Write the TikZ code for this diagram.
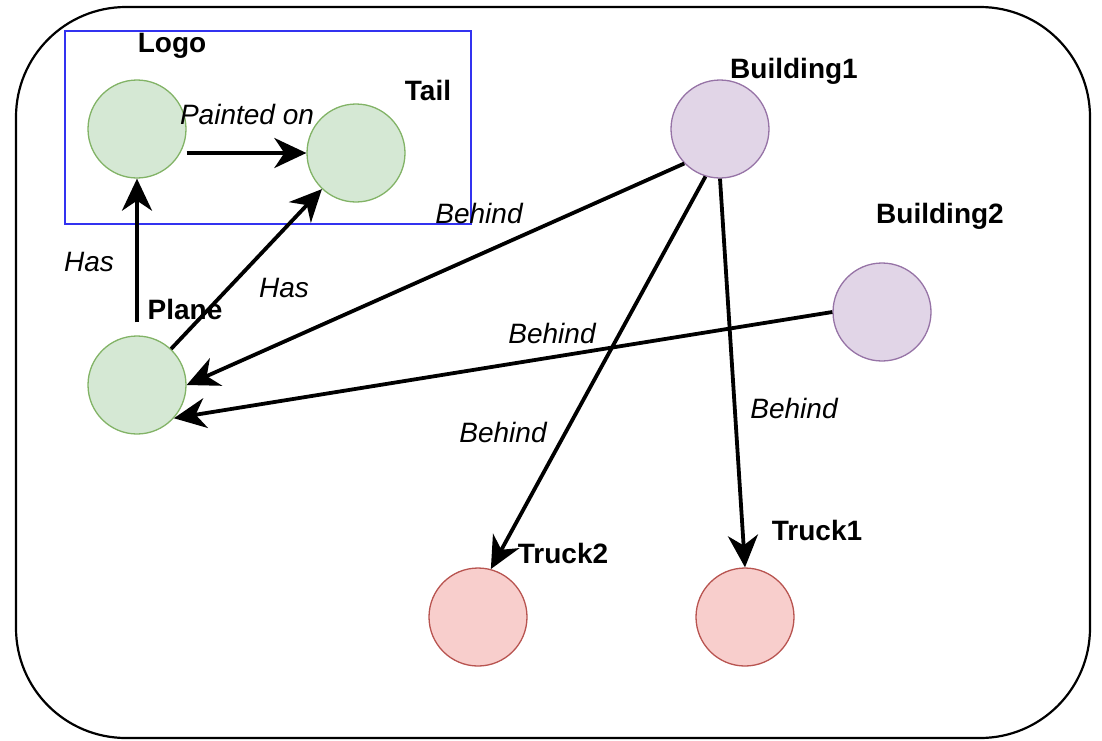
\documentclass[tikz,border=0pt]{standalone}
\usepackage{fontspec}
\setmainfont{Liberation Sans}
\usetikzlibrary{arrows.meta}
\definecolor{gfill}{HTML}{D5E8D4}\definecolor{gline}{HTML}{82B366}
\definecolor{pfill}{HTML}{E1D5E7}\definecolor{pline}{HTML}{9673A6}
\definecolor{rfill}{HTML}{F8CECC}\definecolor{rline}{HTML}{B85450}
\definecolor{boxblue}{RGB}{50,50,240}
\tikzset{
  ent/.style={circle, minimum size=98pt, inner sep=0pt, line width=1.3pt},
  gnode/.style={ent, fill=gfill, draw=gline},
  pnode/.style={ent, fill=pfill, draw=pline},
  rnode/.style={ent, fill=rfill, draw=rline},
  arr/.style={line width=3.8pt, -{Stealth[length=32pt,width=30pt,inset=10pt]}},
  lbl/.style={font=\fontsize{28}{34}\selectfont\bfseries, text height=20pt, text depth=0pt, inner sep=0pt},
  elab/.style={font=\fontsize{28}{34}\selectfont\itshape, text height=20pt, text depth=0pt, inner sep=0pt},
}
\begin{document}
\begin{tikzpicture}[x=1pt,y=-1pt]
\useasboundingbox (0,0) rectangle (1102,740);
\draw[line width=2.2pt, rounded corners=110pt] (16,7) rectangle (1090,738);
\draw[boxblue, line width=1.6pt] (65,31) rectangle (471,224);
\node[gnode] (logo) at (137,129) {};
\node[gnode] (tail) at (356,153) {};
\node[gnode] (plane) at (137,385) {};
\node[pnode] (b1) at (720,129) {};
\node[pnode] (b2) at (882,312) {};
\node[rnode] (t2) at (478,617) {};
\node[rnode] (t1) at (745,617) {};
\draw[arr] ([yshift=13pt]plane.north) -- (logo);
\draw[arr] (logo.east |- tail.west) -- (tail.west);
\draw[arr] (plane) -- (tail);
\draw[arr] (b1.224) -- (plane.east);
\draw[arr] (b2.west) -- (plane.-42);
\draw[arr] (b1.-107) -- (t2.75);
\draw[arr] (b1.south) -- (t1.north);
\node[lbl] (nlogo) at (172,42) {Logo};
\node[lbl] (ntail) at (428,90) {Tail};
\node[lbl] (nplane) at (185,309) {Plane};
\node[lbl] (nb1) at (794,68) {Building1};
\node[lbl] (nb2) at (940,213) {Building2};
\node[lbl] (nt2) at (563,553) {Truck2};
\node[lbl] (nt1) at (817,530) {Truck1};
\node[elab] (l1) at (247,114) {Painted on};
\node[elab] (l2) at (89,261) {Has};
\node[elab] (l3) at (284,287) {Has};
\node[elab] (l4) at (479,213) {Behind};
\node[elab] (l5) at (552,333) {Behind};
\node[elab] (l6) at (503,432) {Behind};
\node[elab] (l7) at (794,408) {Behind};
\end{tikzpicture}
\end{document}
